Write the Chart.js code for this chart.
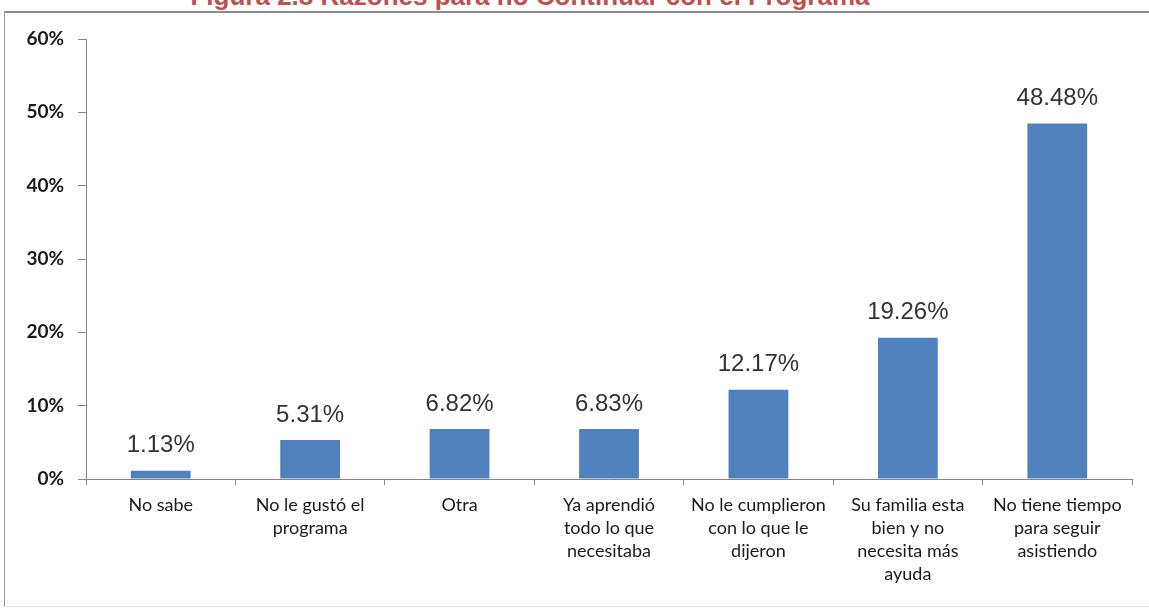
<!DOCTYPE html>
<html>
<head>
<meta charset="utf-8">
<script src="https://cdn.jsdelivr.net/npm/chart.js@4/dist/chart.umd.min.js"></script>
<style>
  html, body { margin: 0; padding: 0; background: #fff; overflow: hidden; }
  #title {
    position: absolute; left: 0; top: -19px; width: 1060px; text-align: center;
    font: bold 26px "Liberation Sans", Arial, sans-serif; color: #c0504d; white-space: nowrap;
  }
  #frame {
    position: absolute; left: 4px; top: 11px; width: 1160px; height: 593px;
    border-top: 2px solid #8c8c8c; border-left: 1px solid #9a9a9a; border-bottom: 1px solid #e4e4e4;
  }
  #wrap { position: absolute; left: 0; top: 0; width: 1149px; height: 609px; }
</style>
</head>
<body>
<div id="title">Figura 2.8 Razones para no Continuar con el Programa</div>
<div id="frame"></div>
<div id="wrap"><canvas id="chart"></canvas></div>
<script>
// Categories (multi-line labels as in the original)
const categories = [
  ['No sabe'],
  ['No le gustó el', 'programa'],
  ['Otra'],
  ['Ya aprendió', 'todo lo que', 'necesitaba'],
  ['No le cumplieron', 'con lo que le', 'dijeron'],
  ['Su familia esta', 'bien y no', 'necesita más', 'ayuda'],
  ['No tiene tiempo', 'para seguir', 'asistiendo']
];

// Percent values
const values = [1.13, 5.31, 6.82, 6.83, 12.17, 19.26, 48.48];

// Y axis ticks
const yTicks = [0, 10, 20, 30, 40, 50, 60];

const barColor = '#4f81bd';
const axisColor = '#868686';

// Value labels above bars
const valueLabels = {
  id: 'valueLabels',
  afterDatasetsDraw(chart) {
    const { ctx } = chart;
    const meta = chart.getDatasetMeta(0);
    ctx.save();
    ctx.font = '24px "Liberation Sans", Arial, sans-serif';
    ctx.fillStyle = '#333333';
    ctx.textAlign = 'center';
    ctx.textBaseline = 'middle';
    meta.data.forEach((bar, i) => {
      ctx.fillText(values[i].toFixed(2) + '%', bar.x, bar.y - 25);
    });
    ctx.restore();
  }
};

new Chart(document.getElementById('chart'), {
  type: 'bar',
  data: {
    labels: categories,
    datasets: [{
      data: values,
      backgroundColor: barColor,
      borderWidth: 0,
      categoryPercentage: 1,
      barPercentage: 0.4
    }]
  },
  options: {
    responsive: true,
    maintainAspectRatio: false,
    animation: false,
    layout: { padding: { top: 39, right: 17, left: 0, bottom: 0 } },
    plugins: {
      legend: { display: false },
      tooltip: { enabled: false }
    },
    scales: {
      x: {
        grid: { drawOnChartArea: false, drawTicks: true, tickLength: 6, color: axisColor, offset: true },
        border: { display: true, color: axisColor, width: 1 },
        ticks: {
          color: '#1a1a1a',
          font: { family: 'Lato, "Open Sans", sans-serif', size: 18, lineHeight: 1.28 },
          padding: 9,
          maxRotation: 0,
          autoSkip: false
        },
        afterFit(scale) { scale.height = 130; }
      },
      y: {
        min: 0,
        max: 60,
        afterBuildTicks(scale) { scale.ticks = yTicks.map(v => ({ value: v })); },
        grid: { drawOnChartArea: false, drawTicks: true, tickLength: 8, color: axisColor },
        border: { display: true, color: axisColor, width: 1 },
        ticks: {
          color: '#1a1a1a',
          font: { family: 'Lato, "Open Sans", sans-serif', size: 19, weight: 'bold' },
          padding: 14,
          callback: v => v + '%'
        },
        afterFit(scale) { scale.width = 86; }
      }
    }
  },
  plugins: [valueLabels]
});
</script>
</body>
</html>
